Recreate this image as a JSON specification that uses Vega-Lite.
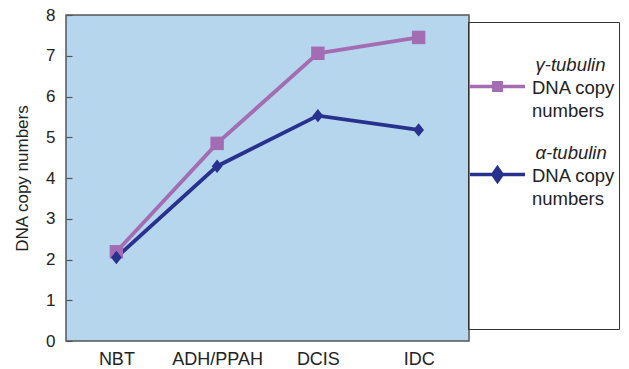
{
  "$schema": "https://vega.github.io/schema/vega-lite/v6.json",
  "width": 403,
  "height": 326,
  "autosize": {"type": "none"},
  "padding": {"left": 66, "top": 15, "right": 160, "bottom": 28},
  "background": "white",
  "config": {
    "font": "Liberation Sans",
    "view": {"fill": "#b5d6ed", "stroke": "#555", "strokeWidth": 1.5}
  },
  "data": {
    "values": [
      {"stage": "NBT", "gene": "γ-tubulin", "copies": 2.19},
      {"stage": "ADH/PPAH", "gene": "γ-tubulin", "copies": 4.85},
      {"stage": "DCIS", "gene": "γ-tubulin", "copies": 7.06},
      {"stage": "IDC", "gene": "γ-tubulin", "copies": 7.45},
      {"stage": "NBT", "gene": "α-tubulin", "copies": 2.05},
      {"stage": "ADH/PPAH", "gene": "α-tubulin", "copies": 4.29},
      {"stage": "DCIS", "gene": "α-tubulin", "copies": 5.53},
      {"stage": "IDC", "gene": "α-tubulin", "copies": 5.18}
    ]
  },
  "encoding": {
    "x": {
      "field": "stage", "type": "nominal",
      "sort": ["NBT", "ADH/PPAH", "DCIS", "IDC"],
      "scale": {"paddingInner": 0, "paddingOuter": 0},
      "axis": {"title": null, "labelAngle": 0, "ticks": false, "domain": false, "labelFontSize": 18, "labelColor": "#222", "labelPadding": 9}
    },
    "y": {
      "field": "copies", "type": "quantitative",
      "scale": {"domain": [0, 8], "nice": false},
      "axis": {"title": "DNA copy numbers", "titleFontSize": 17, "titleFontWeight": "normal", "titleColor": "#222", "titlePadding": 14,
               "values": [0, 1, 2, 3, 4, 5, 6, 7, 8], "grid": false, "domain": false,
               "tickSize": -6, "tickColor": "#555", "tickWidth": 1.2, "labelFontSize": 17, "labelColor": "#222", "labelPadding": 17}
    },
    "color": {
      "field": "gene", "type": "nominal",
      "scale": {"domain": ["γ-tubulin", "α-tubulin"], "range": ["#a46db3", "#28318e"]}
    }
  },
  "layer": [
    {
      "mark": {"type": "line", "strokeWidth": 3.8},
      "encoding": {
        "color": {
          "field": "gene", "type": "nominal",
          "legend": {
            "orient": "none", "legendX": 402, "legendY": 7,
            "title": " ", "titleFontSize": 10, "titlePadding": 22,
            "strokeColor": "#333", "padding": 3,
            "symbolSize": 3025, "symbolStrokeWidth": 3.5, "symbolOffset": -3,
            "labelFontSize": 18.5, "labelColor": "#222", "labelLimit": 300, "labelOffset": 5,
            "labelBaseline": "top", "rowPadding": 22,
            "labelExpr": "datum.index == 0 ? ['', 'DNA copy', 'numbers'] : ['', 'DNA copy', 'numbers', '', '', '', '', '']",
            "encode": {
              "symbols": {"update": {
                "shape": {"signal": "datum.index == 0 ? 'M-1,0H1M-0.135,-0.135H0.135V0.135H-0.135Z' : 'M-1,0H1M0,-0.24L0.17,0L0,0.24L-0.17,0Z'"},
                "fill": {"signal": "datum.index == 0 ? '#a46db3' : '#28318e'"},
                "stroke": {"signal": "datum.index == 0 ? '#a46db3' : '#28318e'"},
                "opacity": {"value": 1}
              }},
              "labels": {"update": {"dy": {"value": -31.5}, "lineHeight": {"value": 23.5}}}
            }
          }
        }
      }
    },
    {
      "mark": {"type": "point", "filled": true, "opacity": 1},
      "encoding": {
        "shape": {
          "field": "gene", "type": "nominal", "legend": null,
          "scale": {"domain": ["γ-tubulin", "α-tubulin"], "range": ["square", "M0,-1L0.8,0L0,1L-0.8,0Z"]}
        },
        "size": {"value": 180},
        "color": {
          "field": "gene", "type": "nominal",
          "legend": {
            "orient": "none", "legendX": 402, "legendY": 41,
            "title": null, "padding": 0,
            "symbolSize": 0, "symbolStrokeWidth": 0,
            "labelFontSize": 18.5, "labelFontStyle": "italic", "labelColor": "#222", "labelLimit": 300, "labelOffset": 49,
            "rowPadding": 69
          }
        }
      }
    }
  ],
  "resolve": {"legend": {"color": "independent"}}
}
